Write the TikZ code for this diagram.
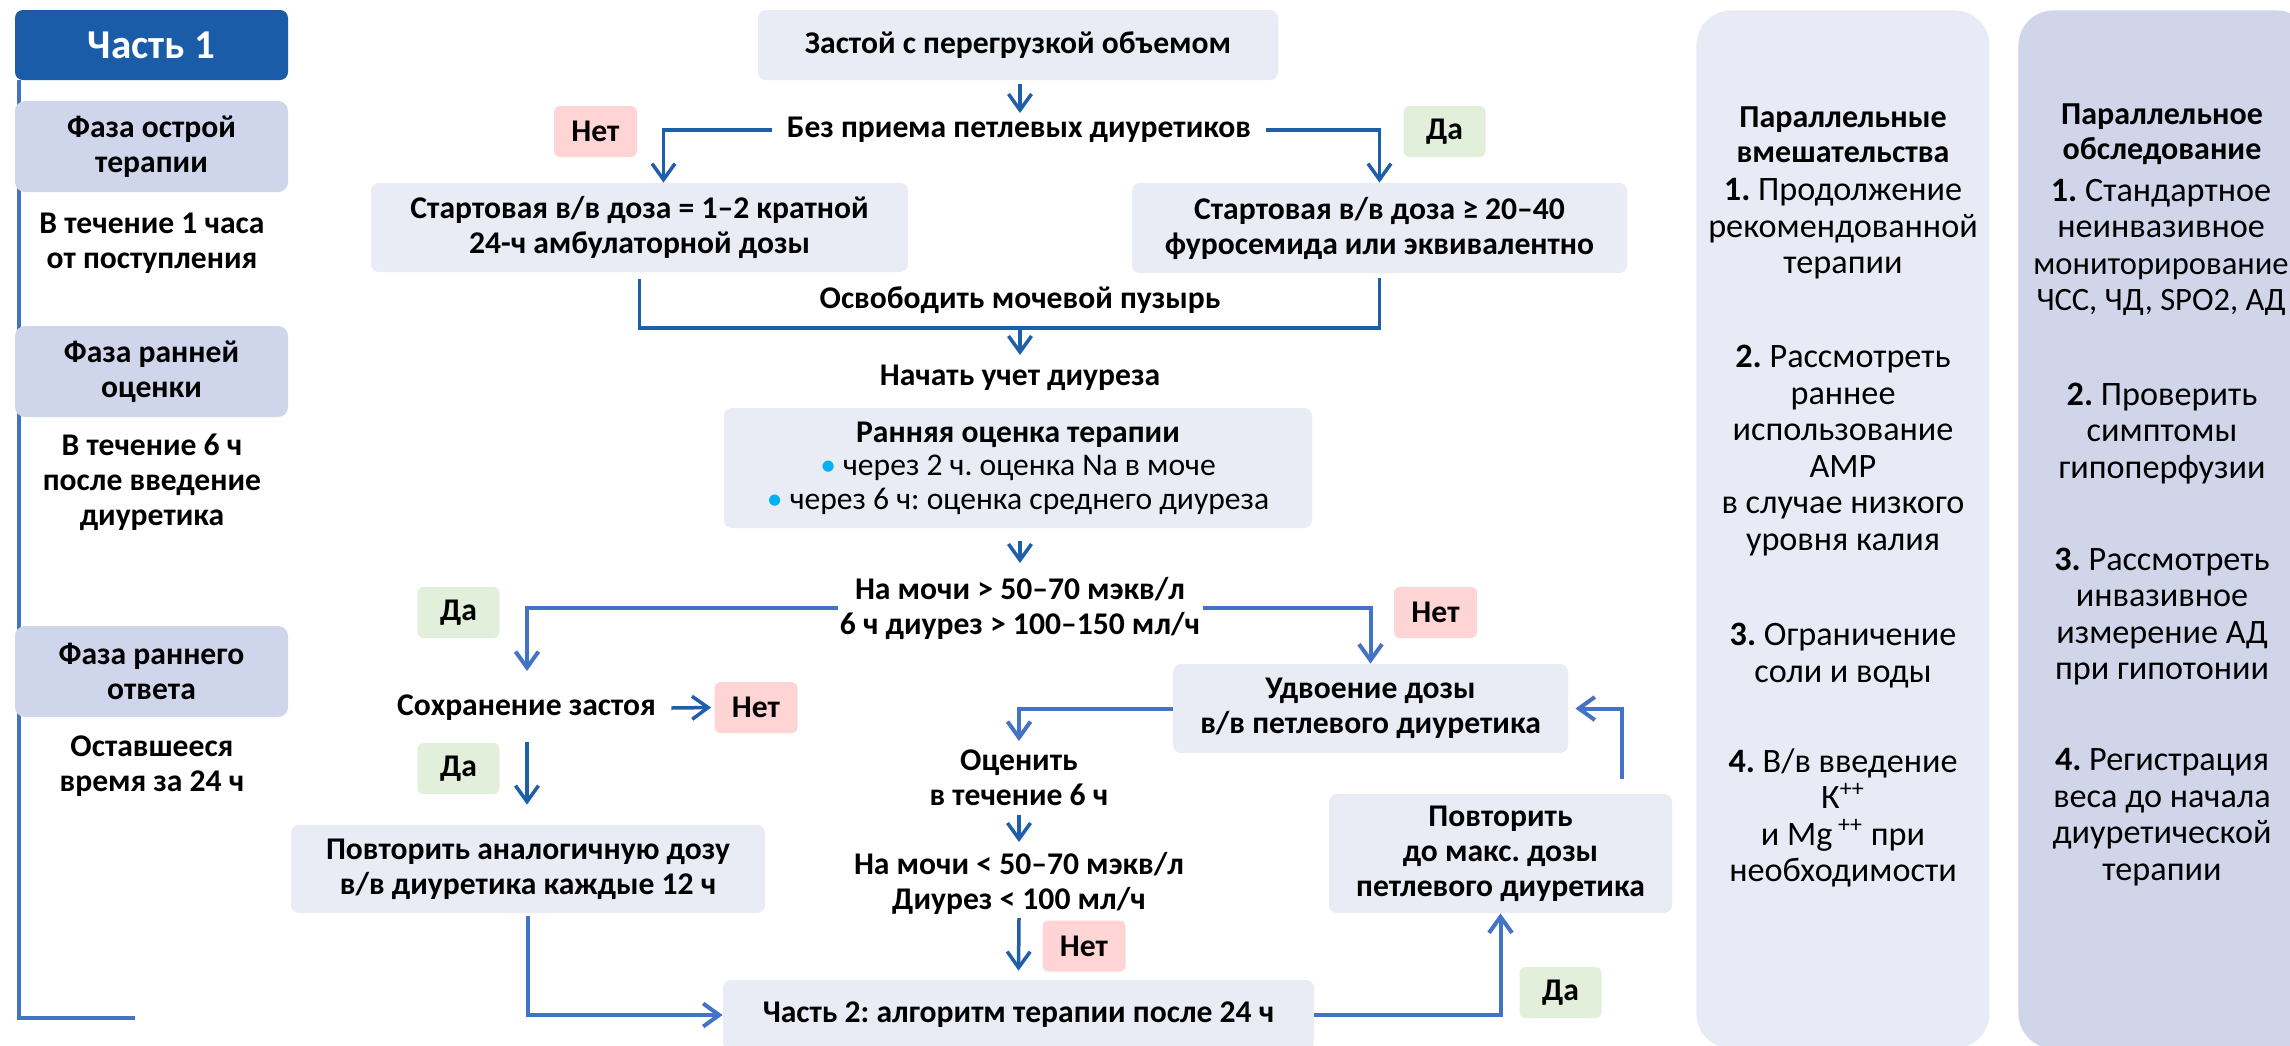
\documentclass[tikz,border=0pt]{standalone}
\usepackage{fontspec}
\setmainfont{Carlito}
\usetikzlibrary{arrows.meta,calc}
\definecolor{cHdr}{RGB}{26,92,168}
\definecolor{cArrD}{RGB}{30,95,170}
\definecolor{cArrL}{RGB}{68,114,196}
\definecolor{cBox}{RGB}{233,235,245}
\definecolor{cPhase}{RGB}{207,213,234}
\definecolor{cPanA}{RGB}{232,235,245}
\definecolor{cPanB}{RGB}{208,213,234}
\definecolor{cNet}{RGB}{255,212,212}
\definecolor{cDa}{RGB}{226,239,218}
\definecolor{cBul}{RGB}{0,176,240}
\newcommand{\fmain}{\fontsize{15.8pt}{17.5pt}\selectfont}
\newcommand{\fpan}{\fontsize{17.1pt}{18.25pt}\selectfont}
\newcommand{\fpansm}{\fontsize{16.3pt}{18.25pt}\selectfont}
\newcommand{\fhead}{\fontsize{16pt}{17.5pt}\selectfont\bfseries}
\frenchspacing
\begin{document}
\frenchspacing
\begin{tikzpicture}[x=0.5pt,y=-0.5pt,
  box/.style={fill=cBox, rounded corners=4pt, align=center, font=\fmain\bfseries, inner sep=0pt},
  phase/.style={fill=cPhase, rounded corners=5pt, align=center, font=\fmain\bfseries, inner sep=0pt, minimum width=136.5pt, minimum height=45.5pt},
  chast/.style={fill=cHdr, rounded corners=4pt, text=white, font=\fontsize{20.5pt}{22pt}\selectfont\bfseries, minimum width=136.5pt, minimum height=35pt, inner sep=0pt},
  txt/.style={align=center, font=\fmain\bfseries, inner ysep=0pt, inner xsep=4pt},
  nettag/.style={fill=cNet, rounded corners=3pt, font=\fmain\bfseries, minimum width=41.5pt, minimum height=25.5pt, inner sep=0pt},
  datag/.style={fill=cDa, rounded corners=3pt, font=\fmain\bfseries, minimum width=41pt, minimum height=25.5pt, inner sep=0pt},
  arrDk/.style={draw=cArrD, line width=1.75pt, -{Straight Barb[length=8pt,width=11.5pt]}},
  lineDk/.style={draw=cArrD, line width=1.75pt},
  arrLt/.style={draw=cArrL, line width=2pt, -{Straight Barb[length=8pt,width=11.5pt]}},
  lineLt/.style={draw=cArrL, line width=2pt},
  panA/.style={fill=cPanA, rounded corners=17.5pt, inner sep=0pt, minimum width=146.5pt, minimum height=519pt},
  panB/.style={fill=cPanB, rounded corners=17.5pt, inner sep=0pt, minimum width=146.5pt, minimum height=519pt},
  ptext/.style={align=center, font=\fpan, inner sep=0pt},
  ltext/.style={align=center, font=\fmain\bfseries, inner sep=0pt},
]
\useasboundingbox (0,0) rectangle (2290,1045);
\fill[white] (0,0) rectangle (2290,1045);

% ---------- right panels ----------
\node[panA, anchor=north west] (pA) at (1696,10) {};
\node[panB, anchor=north west] (pB) at (2018,10) {};
\node[ptext, font=\fhead] (hA) at (1843,134.5) {Параллельные\\вмешательства};
\node[ptext] (a1) at (1843,229) {\textbf{1.} Продолжение\\рекомендованной\\терапии};
\node[ptext] (a2) at (1843,450.5) {\textbf{2.} Рассмотреть\\раннее\\использование\\АМР\\в случае низкого\\уровня калия};
\node[ptext] (a3) at (1843,655.5) {\textbf{3.} Ограничение\\соли и воды};
\node[ptext] (a4) at (1843,818) {\textbf{4.} В/в введение\\К\textsuperscript{++}\\и Mg\,\textsuperscript{++} при\\необходимости};
\node[ptext, font=\fhead] (hB) at (2162,134.5) {Параллельное\\обследование};
\node[ptext] (b1) at (2161,247.5) {\textbf{1.} Стандартное\\неинвазивное\\{\fpansm мониторирование}\\{\fpansm ЧСС, ЧД, SPO2, АД}};
\node[ptext] (b2) at (2162,433.5) {\textbf{2.} Проверить\\симптомы\\гипоперфузии};
\node[ptext] (b3) at (2162,616.5) {\textbf{3.} Рассмотреть\\инвазивное\\измерение АД\\при гипотонии};
\node[ptext] (b4) at (2162,817) {\textbf{4.} Регистрация\\веса до начала\\диуретической\\терапии};

% ---------- left time line ----------
\coordinate (tltop) at (19,80);
\coordinate (tlbot) at (135,1018);
\draw[lineLt] (tltop) |- (tlbot);

\node[chast] (c1) at (151.5,45) {Часть 1};
\node[phase] (ph1) at (151.5,146.5) {Фаза острой\\терапии};
\node[ltext] (t1) at (152,243) {В течение 1 часа\\от поступления};
\node[phase] (ph2) at (151.5,371.5) {Фаза ранней\\оценки};
\node[ltext] (t2) at (152,482) {В течение 6 ч\\после введение\\диуретика};
\node[phase] (ph3) at (151.5,671.5) {Фаза раннего\\ответа};
\node[ltext] (t3) at (152,766) {Оставшееся\\время за 24 ч};

% ---------- central flow ----------
\node[box, minimum width=260pt, minimum height=35pt] (zast) at (1018,45) {Застой с перегрузкой объемом};
\node[txt, inner xsep=7.5pt] (bez) at (1019,130) {Без приема петлевых диуретиков};
\node[nettag] (n1) at (595.5,131.5) {Нет};
\node[datag] (d1) at (1444.5,131.5) {Да};
\node[box, minimum width=268.5pt, minimum height=44.5pt] (sL) at (639.5,227.5) {Стартовая в/в доза = 1–2 кратной\\24-ч амбулаторной дозы};
\node[box, minimum width=247.5pt, minimum height=45pt] (sR) at (1379.5,228) {Стартовая в/в доза ≥ 20–40\\фуросемида или эквивалентно};
\node[txt] (osv) at (1020,300) {Освободить мочевой пузырь};
\node[txt] (nach) at (1020,378) {Начать учет диуреза};
\node[box, minimum width=294pt, minimum height=60pt, font=\fontsize{15.8pt}{16.75pt}\selectfont\bfseries] (ran) at (1018,468) {Ранняя оценка терапии\\{\mdseries\textcolor{cBul}{•} через 2 ч. оценка Na в моче}\\{\mdseries\textcolor{cBul}{•} через 6 ч: оценка среднего диуреза}};
\node[txt, inner xsep=1pt] (na1) at (1020,608) {На мочи > 50–70 мэкв/л\\6 ч диурез > 100–150 мл/ч};
\node[datag] (d2) at (458.5,612.5) {Да};
\node[nettag] (n2) at (1435.5,612.5) {Нет};
\node[txt, inner xsep=7.5pt] (sohr) at (526.5,708) {Сохранение застоя};
\node[nettag] (n3) at (756,707.5) {Нет};
\node[datag] (d3) at (458.5,768.5) {Да};
\node[box, minimum width=237pt, minimum height=44pt] (povA) at (528,869) {Повторить аналогичную дозу\\в/в диуретика каждые 12 ч};
\node[box, minimum width=197.5pt, minimum height=44.5pt] (udv) at (1370.5,708.5) {Удвоение дозы\\в/в петлевого диуретика};
\node[txt] (oc) at (1019,778) {Оценить\\в течение 6 ч};
\node[txt] (na2) at (1019,883) {На мочи < 50–70 мэкв/л\\Диурез < 100 мл/ч};
\node[nettag] (n4) at (1084,946) {Нет};
\node[box, minimum width=295.5pt, minimum height=35pt] (ch2) at (1018.5,1015) {Часть 2: алгоритм терапии после 24 ч};
\node[box, minimum width=171.5pt, minimum height=59.5pt] (povM) at (1500.5,853.5) {Повторить\\до макс. дозы\\петлевого диуретика};
\node[datag] (d4) at (1560.5,992.5) {Да};

% ---------- connectors ----------
\draw[arrDk] ($(zast.south)+(2,4)$) -- ($(bez.center)+(1,-17)$);
\draw[arrDk] (bez.west) -| ([xshift=12pt]sL.north);
\draw[arrDk] (bez.east) -| (sR.north);
\coordinate (join) at ($(osv.center)+(0,28)$);
\draw[lineDk] ([yshift=-3.5pt]sL.south) |- (join) -| ([yshift=-2.5pt]sR.south);
\draw[arrDk] (join) -- ($(nach.center)+(0,-23)$);
\draw[arrDk] ($(ran.south)+(2,13)$) -- ($(na1.center)+(0,-45)$);
\draw[arrLt] (na1.west) -| ($(sohr.center)+(0.5,-37)$);
\draw[arrLt] (na1.east) -| (udv.north);
\draw[arrDk, shorten >=1.5pt] (sohr.east) -- (n3.west);
\draw[arrDk] ($(sohr.center)+(0.5,34)$) -- ($(povA.north)+(-1,-20)$);
\draw[arrLt] ([yshift=-1.5pt]povA.south) |- (ch2.west);
\draw[arrLt] (udv.west) -| ($(oc.center)+(0,-37)$);
\draw[arrDk] ($(oc.center)+(0,37)$) -- ($(na2.center)+(0,-41)$);
\draw[arrDk] ($(na2.center)+(0,35)$) -- ([yshift=4.5pt]ch2.north);
\draw[arrLt] (ch2.east) -| (povM.south);
\draw[arrLt] ([xshift=60.75pt,yshift=7.5pt]povM.north) |- ([xshift=3.5pt]udv.east);
\end{tikzpicture}
\end{document}
